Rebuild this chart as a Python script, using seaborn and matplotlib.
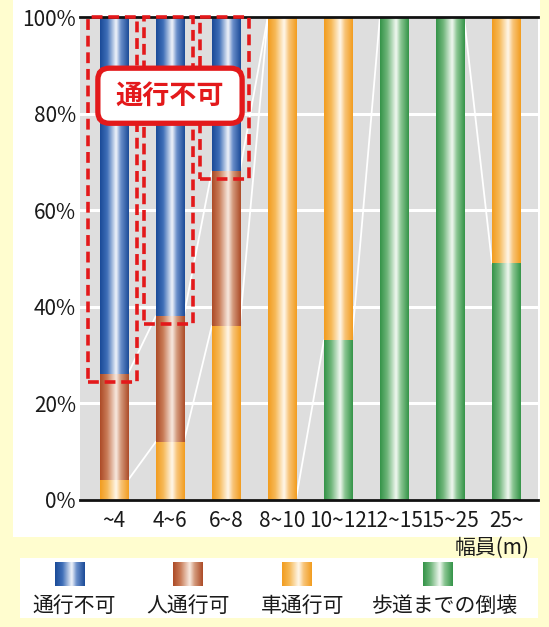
import matplotlib
matplotlib.use('Agg')
import matplotlib.pyplot as plt
from matplotlib.colors import LinearSegmentedColormap
from matplotlib.patches import Rectangle, FancyBboxPatch
import seaborn as sns
import numpy as np

# ---- data -------------------------------------------------------------####

categories = ['~4', '4~6', '6~8', '8~10', '10~12', '12~15', '15~25', '25~']
yticks = [0, 20, 40, 60, 80, 100]
ytick_labels = ['0%', '20%', '40%', '60%', '80%', '100%']

# share of each damage state (%) per road width class, bottom to top
walkway_collapse = [0, 0, 0, 0, 33, 100, 100, 49]   # 歩道までの倒壊
car_passable = [4, 12, 36, 100, 67, 0, 0, 51]       # 車通行可
people_passable = [22, 26, 32, 0, 0, 0, 0, 0]       # 人通行可
impassable = [74, 62, 32, 0, 0, 0, 0, 0]            # 通行不可

series_names = ['通行不可', '人通行可', '車通行可', '歩道までの倒壊']

# ---- style ------------------------------------------------------------####

plt.rcParams['font.family'] = ['Noto Sans CJK JP', 'DejaVu Sans']

bg_yellow = '#FFFDCF'
red = '#E3191B'
grad_stops = {
    '通行不可': ['#1A4A97', '#3F6FB8', '#F2F5FB', '#6A8FCA', '#1A4A97'],
    '人通行可': ['#AC4A26', '#C97C58', '#F8EAE1', '#D39A7C', '#AC4A26'],
    '車通行可': ['#F29C1E', '#F6B957', '#FFF8EC', '#F8C57A', '#F29C1E'],
    '歩道までの倒壊': ['#339347', '#6FB57A', '#F2F9F2', '#8BC693', '#339347'],
}
stop_pos = [0.0, 0.25, 0.56, 0.72, 1.0]
cmaps = {k: LinearSegmentedColormap.from_list(k, list(zip(stop_pos, v))) for k, v in grad_stops.items()}
grad = np.linspace(0, 1, 256).reshape(1, -1)

W, H = 549, 627
fig = plt.figure(figsize=(W / 100, H / 100), dpi=100, facecolor=bg_yellow)

# white panels behind chart and legend
fig.patches.append(Rectangle((13 / W, 1 - 537 / H), 527 / W, 537 / H, transform=fig.transFigure,
                             facecolor='white', edgecolor='none', zorder=-5))
fig.patches.append(Rectangle((20 / W, 1 - 618 / H), 518 / W, 60 / H, transform=fig.transFigure,
                             facecolor='white', edgecolor='none', zorder=-5))

ax = fig.add_axes([80 / W, 1 - 500 / H, 458 / W, 483 / H])
ax.set_facecolor('#DEDEDE')

# ---- stacked bars (cumulative, drawn tallest first) ----------------------####

cum_green = np.array(walkway_collapse)
cum_orange = cum_green + np.array(car_passable)
cum_brown = cum_orange + np.array(people_passable)
cum_blue = cum_brown + np.array(impassable)

layers = [('通行不可', cum_blue), ('人通行可', cum_brown), ('車通行可', cum_orange), ('歩道までの倒壊', cum_green)]

for k, (name, vals) in enumerate(layers):
    n0 = len(ax.patches)
    sns.barplot(x=categories, y=vals, order=categories, color=grad_stops[name][0],
                width=0.5, errorbar=None, ax=ax)
    for p in ax.patches[n0:]:
        x0, y0, w, h = p.get_x(), p.get_y(), p.get_width(), p.get_height()
        p.set_facecolor('none')
        p.set_edgecolor('none')
        if h <= 0:
            continue
        ax.imshow(grad, cmap=cmaps[name], aspect='auto', interpolation='bicubic',
                  extent=[x0, x0 + w, y0, y0 + h], zorder=2 + k * 0.1)

# series lines between bars
for name, vals in layers:
    for i in range(len(categories) - 1):
        a, b = vals[i], vals[i + 1]
        if a == b and a in (0, 100):
            continue
        ax.plot([i + 0.25, i + 0.75], [a, b], color='white', lw=1.3, zorder=1.5)

# ---- annotation: dashed boxes around impassable segments ----------------####

for i in range(3):
    bottom = cum_brown[i] - 1.5
    ax.add_patch(Rectangle((i - 0.46, bottom), 0.88, 100 - bottom, fill=False, edgecolor=red,
                           lw=2.6, linestyle=(0, (3, 1.6)), zorder=6, clip_on=False))

box = FancyBboxPatch((0.039, 0.78), 0.315, 0.114, boxstyle='round,pad=0,rounding_size=0.025',
                     mutation_aspect=458 / 483, transform=ax.transAxes, facecolor='white',
                     edgecolor=red, lw=3.8, zorder=8, clip_on=False)
ax.add_patch(box)
ax.text(0.039 + 0.315 / 2, 0.78 + 0.114 / 2, '通行不可', transform=ax.transAxes, ha='center', va='center',
        fontsize=19.5, fontweight='bold', color=red, zorder=9)

# ---- axes -------------------------------------------------------------####

ax.set_xlim(-0.6, 7.57)
ax.set_ylim(0, 100)
ax.set_yticks(yticks)
ax.set_yticklabels(ytick_labels)
ax.set_xlabel('')
ax.set_ylabel('')
ax.yaxis.grid(True, color='white', lw=2.2)
ax.xaxis.grid(False)
ax.set_axisbelow(True)
ax.tick_params(axis='both', length=0, labelsize=15, colors='#1A1A1A')
ax.tick_params(axis='y', pad=3)
ax.tick_params(axis='x', pad=7)
for s in ['left', 'right']:
    ax.spines[s].set_visible(False)
for s in ['top', 'bottom']:
    ax.spines[s].set_color('#111111')
    ax.spines[s].set_linewidth(2)
    ax.spines[s].set_zorder(5)

fig.text(530 / W, 1 - 548 / H, '幅員(m)', ha='right', va='center', fontsize=15, color='#1A1A1A')

# ---- legend -------------------------------------------------------------####

swatch_x = [70, 188, 297, 438]
label_x = [74, 188, 303, 445]
for name, sx, lx in zip(series_names, swatch_x, label_x):
    sax = fig.add_axes([(sx - 15) / W, 1 - 586 / H, 30 / W, 24 / H])
    sax.imshow(grad, cmap=cmaps[name], aspect='auto', interpolation='bicubic')
    sax.axis('off')
    fig.text(lx / W, 1 - 606 / H, name, ha='center', va='center', fontsize=15, color='#1A1A1A')

plt.savefig('out.png', dpi=100, facecolor=bg_yellow)
